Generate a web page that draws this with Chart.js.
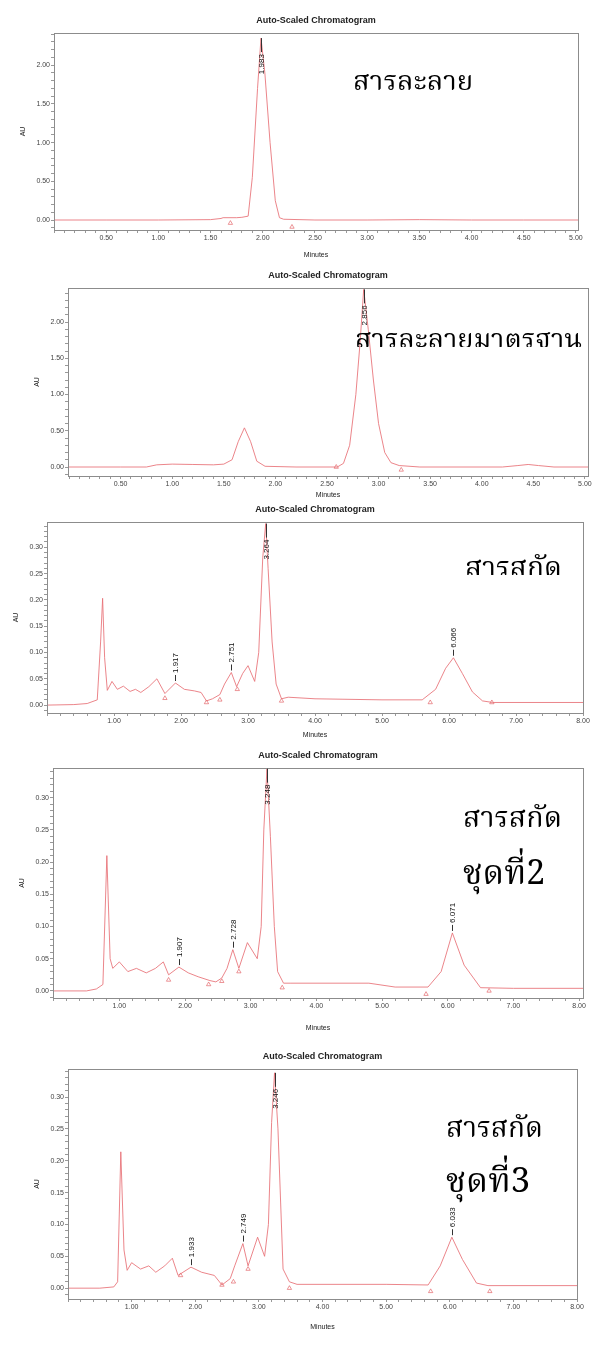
<!DOCTYPE html>
<html>
<head>
<meta charset="utf-8">
<script src="https://cdn.jsdelivr.net/npm/chart.js@4.4.1/dist/chart.umd.min.js"></script>
<style>
  body { margin: 0; background: #fff; }
  #page { position: relative; width: 595px; height: 1345px; overflow: hidden; background: #fff; }
  #page canvas { position: absolute; left: 0; }
</style>
</head>
<body>
<div id="page">
  <canvas id="c1"></canvas>
  <canvas id="c2"></canvas>
  <canvas id="c3"></canvas>
  <canvas id="c4"></canvas>
  <canvas id="c5"></canvas>
</div>
<script>
// ---- data (minutes / AU) ----
const time1 = [0, 0.5, 1.0, 1.5, 1.6, 1.62, 1.75, 1.8, 1.86, 1.9, 1.95, 1.983, 2.02, 2.07, 2.12, 2.16, 2.2, 2.5, 3.0, 3.5, 4.0, 4.5, 5.02];
const au1   = [0, 0, 0, 0.005, 0.02, 0.03, 0.03, 0.035, 0.05, 0.55, 1.7, 2.35, 1.9, 1.0, 0.25, 0.03, 0.01, 0, 0, 0.005, 0, 0, 0];

const time2 = [0, 0.5, 0.75, 0.85, 1.0, 1.2, 1.4, 1.5, 1.58, 1.64, 1.70, 1.76, 1.82, 1.9, 2.2, 2.6, 2.66, 2.72, 2.78, 2.82, 2.856, 2.9, 2.95, 3.0, 3.06, 3.12, 3.2, 3.4, 4.2, 4.35, 4.45, 4.55, 4.7, 5.03];
const au2   = [0, 0, 0, 0.03, 0.04, 0.035, 0.03, 0.04, 0.1, 0.35, 0.54, 0.35, 0.08, 0.01, 0, 0, 0.05, 0.3, 1.0, 1.7, 2.45, 1.9, 1.2, 0.6, 0.2, 0.06, 0.02, 0, 0, 0.02, 0.035, 0.02, 0, 0];

const time3 = [0, 0.4, 0.6, 0.75, 0.8, 0.83, 0.86, 0.9, 0.97, 1.05, 1.14, 1.24, 1.32, 1.4, 1.52, 1.64, 1.76, 1.917, 2.05, 2.2, 2.3, 2.38, 2.47, 2.58, 2.65, 2.751, 2.83, 2.92, 3.0, 3.1, 3.16, 3.22, 3.264, 3.3, 3.36, 3.42, 3.5, 3.6, 4.0, 5.0, 5.6, 5.8, 5.95, 6.066, 6.2, 6.35, 6.5, 6.65, 7.0, 8.0];
const au3   = [0, 0.001, 0.003, 0.01, 0.12, 0.203, 0.09, 0.028, 0.045, 0.03, 0.036, 0.026, 0.03, 0.024, 0.035, 0.05, 0.022, 0.042, 0.03, 0.027, 0.024, 0.008, 0.012, 0.02, 0.04, 0.062, 0.035, 0.06, 0.075, 0.045, 0.1, 0.28, 0.345, 0.26, 0.12, 0.04, 0.012, 0.015, 0.012, 0.01, 0.01, 0.03, 0.07, 0.09, 0.06, 0.025, 0.008, 0.005, 0.005, 0.005];

const time4 = [0, 0.5, 0.65, 0.75, 0.81, 0.86, 0.9, 1.0, 1.13, 1.26, 1.41, 1.55, 1.67, 1.75, 1.907, 2.05, 2.2, 2.38, 2.47, 2.56, 2.64, 2.728, 2.82, 2.95, 3.1, 3.16, 3.2, 3.248, 3.3, 3.36, 3.41, 3.5, 3.6, 4.8, 5.2, 5.7, 5.9, 6.071, 6.25, 6.5, 7.0, 8.06];
const au4   = [0, 0, 0.003, 0.01, 0.21, 0.05, 0.035, 0.045, 0.03, 0.035, 0.028, 0.035, 0.045, 0.025, 0.037, 0.028, 0.022, 0.016, 0.014, 0.02, 0.035, 0.064, 0.035, 0.075, 0.05, 0.1, 0.25, 0.345, 0.24, 0.1, 0.03, 0.012, 0.012, 0.012, 0.006, 0.006, 0.03, 0.09, 0.04, 0.005, 0.004, 0.004];

const time5 = [0, 0.5, 0.72, 0.78, 0.83, 0.88, 0.93, 1.0, 1.14, 1.27, 1.38, 1.52, 1.64, 1.73, 1.933, 2.1, 2.3, 2.42, 2.55, 2.62, 2.749, 2.83, 2.98, 3.09, 3.15, 3.2, 3.246, 3.3, 3.38, 3.48, 3.6, 5.0, 5.66, 5.85, 6.033, 6.2, 6.42, 6.6, 8.0];
const au5   = [0, 0, 0.002, 0.01, 0.214, 0.06, 0.028, 0.04, 0.03, 0.035, 0.025, 0.035, 0.047, 0.02, 0.033, 0.025, 0.02, 0.005, 0.015, 0.035, 0.07, 0.035, 0.08, 0.05, 0.1, 0.26, 0.338, 0.25, 0.03, 0.01, 0.006, 0.006, 0.005, 0.035, 0.08, 0.045, 0.008, 0.004, 0.004];

// peak start / end markers of the integration
const markT1 = [1.69, 2.28];
const markA1 = [-0.04, -0.09];
const markT2 = [2.59, 3.22];
const markA2 = [0, -0.04];
const markT3 = [1.76, 2.38, 2.58, 2.84, 3.5, 5.72, 6.64];
const markA3 = [0.013, 0.005, 0.01, 0.03, 0.008, 0.005, 0.005];
const markT4 = [1.75, 2.36, 2.56, 2.82, 3.48, 5.67, 6.63];
const markA4 = [0.017, 0.01, 0.015, 0.03, 0.005, -0.005, 0];
const markT5 = [1.77, 2.42, 2.6, 2.83, 3.48, 5.7, 6.63];
const markA5 = [0.02, 0.005, 0.01, 0.03, 0, -0.005, -0.005];

// retention times printed on the peaks
const peaks1 = [1.983];
const peaks2 = [2.856];
const peaks3 = [1.917, 2.751, 3.264, 6.066];
const peaks4 = [1.907, 2.728, 3.248, 6.071];
const peaks5 = [1.933, 2.749, 3.246, 6.033];

// tick labels
const xTicksShort = [0.5, 1.0, 1.5, 2.0, 2.5, 3.0, 3.5, 4.0, 4.5, 5.0];
const yTicksBig   = [0, 0.5, 1.0, 1.5, 2.0];
const xTicksLong  = [1, 2, 3, 4, 5, 6, 7, 8];
const yTicksSmall = [0, 0.05, 0.10, 0.15, 0.20, 0.25, 0.30];

// sample names written on the charts
const notes1 = ['สารละลาย'];
const notes2 = ['สารละลายมาตรฐาน'];
const notes3 = ['สารสกัด'];
const notes4 = ['สารสกัด', 'ชุดที่2'];
const notes5 = ['สารสกัด', 'ชุดที่3'];

const chartTitle = 'Auto-Scaled Chromatogram';
const xTitle = 'Minutes';
const yTitle = 'AU';

// ---- layout (page pixels) ----
const PAD_TOP = 30, X_AXIS_H = 40, CANVAS_W = 620;
const panels = [
  { id: 'c1', time: time1, au: au1, mt: markT1, ma: markA1, peaks: peaks1, xt: xTicksShort, yt: yTicksBig, notes: notes1,
    box: [54, 578, 33, 230], x: [0, 5.02], y: [-0.129, 2.416], mx: 0.1, my: 0.1, minDy: 25,
    notePos: [[353, 90, 120, null]] },
  { id: 'c2', time: time2, au: au2, mt: markT2, ma: markA2, peaks: peaks2, xt: xTicksShort, yt: yTicksBig, notes: notes2,
    box: [68, 588, 288, 476], x: [-0.01, 5.03], y: [-0.124, 2.469], mx: 0.1, my: 0.1, minDy: 19,
    notePos: [[355, 348, 227, 347]] },
  { id: 'c3', time: time3, au: au3, mt: markT3, ma: markA3, peaks: peaks3, xt: xTicksLong, yt: yTicksSmall, notes: notes3,
    box: [47, 583, 522, 713], x: [0, 8], y: [-0.015, 0.348], mx: 0.2, my: 0.01, minDy: 22,
    notePos: [[465, 577, 97, 575]] },
  { id: 'c4', time: time4, au: au4, mt: markT4, ma: markA4, peaks: peaks4, xt: xTicksLong, yt: yTicksSmall, notes: notes4,
    box: [53, 583, 768, 998], x: [-0.01, 8.06], y: [-0.011, 0.346], mx: 0.2, my: 0.01, minDy: 30,
    notePos: [[463, 827, 99, null], [463, 884, 82, null]] },
  { id: 'c5', time: time5, au: au5, mt: markT5, ma: markA5, peaks: peaks5, xt: xTicksLong, yt: yTicksSmall, notes: notes5,
    box: [68, 577, 1069, 1299], x: [0, 8], y: [-0.017, 0.344], mx: 0.2, my: 0.01, minDy: 28,
    notePos: [[446, 1137, 97, null], [446, 1192, 84, null]] }
];

const THAI_FONT = '"Noto Serif Thai", "Noto Sans Thai", "Angsana New", "TH Sarabun New", Loma, Garuda, serif';
const TRACE = 'rgba(232, 112, 118, 0.85)';

function minorTicks(min, max, step) {
  const out = [];
  for (let v = Math.ceil(min / step - 1e-6) * step; v <= max + 1e-9; v += step) {
    out.push(Math.round(v * 1000) / 1000);
  }
  return out;
}
function isMajor(v, majors) {
  return majors.some(m => Math.abs(m - v) < 1e-6);
}

const decorPlugin = {
  id: 'decor',
  afterDraw(chart, args, o) {
    const p = o.panel;
    const ctx = chart.ctx;
    const a = chart.chartArea;
    const top = p.box[2] - PAD_TOP; // canvas top on the page
    ctx.save();
    // plot frame
    ctx.strokeStyle = '#8c8c8c';
    ctx.lineWidth = 1;
    ctx.strokeRect(Math.round(a.left) + 0.5, Math.round(a.top) + 0.5, Math.round(a.right - a.left), Math.round(a.bottom - a.top));

    // title, axis titles
    ctx.fillStyle = '#222';
    ctx.textAlign = 'center';
    ctx.textBaseline = 'middle';
    ctx.font = 'bold 9px "Liberation Sans", Arial, sans-serif';
    ctx.fillText(chartTitle, (a.left + a.right) / 2, a.top - 12);
    ctx.font = '7px "Liberation Sans", Arial, sans-serif';
    ctx.fillText(xTitle, (a.left + a.right) / 2, a.bottom + p.minDy);
    ctx.save();
    ctx.translate(a.left - 31, (a.top + a.bottom) / 2);
    ctx.rotate(-Math.PI / 2);
    ctx.fillText(yTitle, 0, 0);
    ctx.restore();

    // retention-time labels
    const xs = chart.scales.x, ys = chart.scales.y;
    ctx.font = '8px "Liberation Sans", Arial, sans-serif';
    ctx.fillStyle = '#111';
    ctx.strokeStyle = '#333';
    p.peaks.forEach(t => {
      const i = p.time.indexOf(t);
      const px = Math.round(xs.getPixelForValue(t)) + 0.5;
      const py = Math.max(ys.getPixelForValue(p.au[i]), a.top);
      const label = t.toFixed(3);
      const w = ctx.measureText(label).width;
      let l0, l1, textBottom;
      if (py - 10 - w > a.top + 2) {
        l0 = py - 2; l1 = py - 8; textBottom = py - 10;
      } else {
        l0 = py; l1 = py + 14; textBottom = py + 16 + w;
      }
      ctx.beginPath();
      ctx.moveTo(px, l0);
      ctx.lineTo(px, l1);
      ctx.stroke();
      ctx.save();
      ctx.translate(px, textBottom);
      ctx.rotate(-Math.PI / 2);
      ctx.textAlign = 'left';
      ctx.fillText(label, 0, 0);
      ctx.restore();
    });

    // Thai sample names
    ctx.fillStyle = '#000';
    ctx.textAlign = 'left';
    ctx.textBaseline = 'alphabetic';
    p.notes.forEach((txt, k) => {
      const [nx, ny, nw, clipY] = p.notePos[k];
      ctx.font = '40px ' + THAI_FONT;
      const size = 40 * nw / ctx.measureText(txt).width;
      ctx.font = size.toFixed(1) + 'px ' + THAI_FONT;
      ctx.save();
      if (clipY !== null) {
        ctx.beginPath();
        ctx.rect(0, 0, CANVAS_W, clipY - top);
        ctx.clip();
      }
      ctx.fillText(txt, nx, ny - top);
      ctx.restore();
    });
    ctx.restore();
  }
};

panels.forEach(p => {
  const [L, R, T, B] = p.box;
  const cv = document.getElementById(p.id);
  const h = (B - T) + PAD_TOP + X_AXIS_H;
  cv.width = CANVAS_W;
  cv.height = h;
  cv.style.top = (T - PAD_TOP) + 'px';
  const tickFont = { size: 7, family: '"Liberation Sans", Arial, sans-serif' };

  new Chart(cv, {
    type: 'line',
    data: {
      datasets: [{
        data: p.time.map((t, i) => ({ x: t, y: p.au[i] })),
        borderColor: TRACE,
        borderWidth: 1,
        pointRadius: 0,
        tension: 0,
        fill: false
      }, {
        // integration start/end marks
        data: p.mt.map((t, i) => ({ x: t, y: p.ma[i] })),
        showLine: false,
        pointStyle: 'triangle',
        pointRadius: 2.5,
        pointBorderWidth: 0.8,
        pointBorderColor: 'rgba(225, 90, 95, 0.8)',
        pointBackgroundColor: 'rgba(255, 255, 255, 0)'
      }]
    },
    options: {
      responsive: false,
      animation: false,
      layout: { padding: { top: PAD_TOP, right: CANVAS_W - R, left: 0, bottom: 0 } },
      plugins: { legend: { display: false }, tooltip: { enabled: false }, decor: { panel: p } },
      scales: {
        x: {
          type: 'linear', min: p.x[0], max: p.x[1],
          afterBuildTicks: s => { s.ticks = minorTicks(p.x[0], p.x[1], p.mx).map(v => ({ value: v })); },
          afterFit: s => { s.height = X_AXIS_H; },
          ticks: {
            autoSkip: false, maxRotation: 0, padding: 1, color: '#444', font: tickFont,
            callback: v => isMajor(v, p.xt) ? v.toFixed(2) : ''
          },
          grid: { drawOnChartArea: false, tickLength: 3, tickColor: '#999' },
          border: { display: true, color: '#8c8c8c' }
        },
        y: {
          type: 'linear', min: p.y[0], max: p.y[1],
          afterBuildTicks: s => { s.ticks = minorTicks(p.y[0], p.y[1], p.my).map(v => ({ value: v })); },
          afterFit: s => { s.width = L; },
          ticks: {
            autoSkip: false, padding: 1, color: '#444', font: tickFont,
            callback: v => isMajor(v, p.yt) ? v.toFixed(2) : ''
          },
          grid: { drawOnChartArea: false, tickLength: 3, tickColor: '#999' },
          border: { display: true, color: '#8c8c8c' }
        }
      }
    },
    plugins: [decorPlugin]
  });
});
</script>
</body>
</html>
